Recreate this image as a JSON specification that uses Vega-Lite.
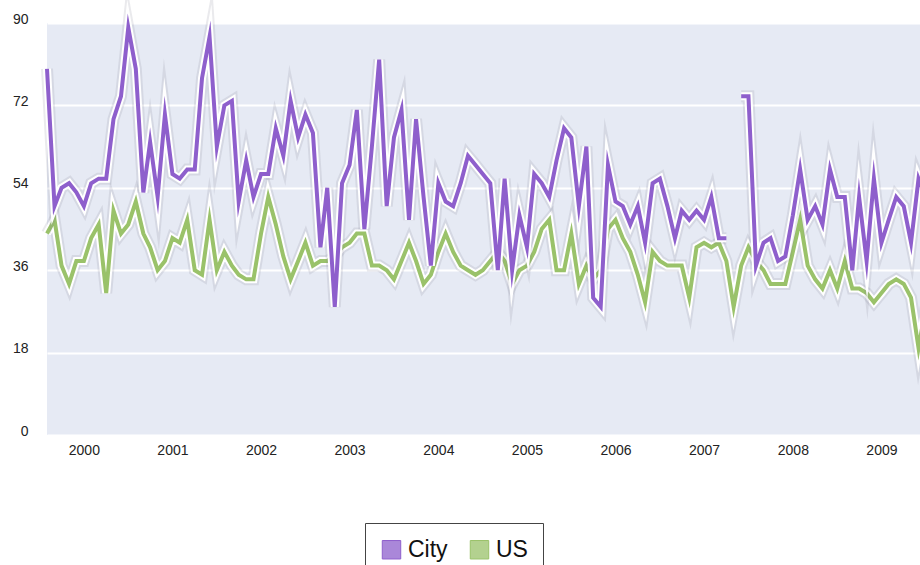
{
  "$schema": "https://vega.github.io/schema/vega-lite/v6.json",
  "autosize": {"type": "none"},
  "padding": {"left": 47, "top": 23, "right": 0, "bottom": 130},
  "width": 873,
  "height": 412,
  "background": "white",
  "config": {
    "view": {"fill": "#e6eaf4", "stroke": null},
    "font": "Liberation Sans",
    "axis": {"labelFont": "Liberation Sans", "labelFontSize": 14, "labelColor": "#222222"}
  },
  "data": {
    "values": [
      {"d": "2000-01-01", "City": 80, "US": 44},
      {"d": "2000-02-01", "City": 50, "US": 47},
      {"d": "2000-03-01", "City": 54, "US": 37},
      {"d": "2000-04-01", "City": 55, "US": 33},
      {"d": "2000-05-01", "City": 53, "US": 38},
      {"d": "2000-06-01", "City": 50, "US": 38},
      {"d": "2000-07-01", "City": 55, "US": 43},
      {"d": "2000-08-01", "City": 56, "US": 46},
      {"d": "2000-09-01", "City": 56, "US": 31},
      {"d": "2000-10-01", "City": 69, "US": 49},
      {"d": "2000-11-01", "City": 74, "US": 44},
      {"d": "2000-12-01", "City": 89, "US": 46},
      {"d": "2001-01-01", "City": 80, "US": 51},
      {"d": "2001-02-01", "City": 53, "US": 44},
      {"d": "2001-03-01", "City": 64, "US": 41},
      {"d": "2001-04-01", "City": 52, "US": 36},
      {"d": "2001-05-01", "City": 70, "US": 38},
      {"d": "2001-06-01", "City": 57, "US": 43},
      {"d": "2001-07-01", "City": 56, "US": 42},
      {"d": "2001-08-01", "City": 58, "US": 47},
      {"d": "2001-09-01", "City": 58, "US": 36},
      {"d": "2001-10-01", "City": 78, "US": 35},
      {"d": "2001-11-01", "City": 87, "US": 47},
      {"d": "2001-12-01", "City": 63, "US": 36},
      {"d": "2002-01-01", "City": 72, "US": 40},
      {"d": "2002-02-01", "City": 73, "US": 37},
      {"d": "2002-03-01", "City": 51, "US": 35},
      {"d": "2002-04-01", "City": 60, "US": 34},
      {"d": "2002-05-01", "City": 52, "US": 34},
      {"d": "2002-06-01", "City": 57, "US": 44},
      {"d": "2002-07-01", "City": 57, "US": 52},
      {"d": "2002-08-01", "City": 67, "US": 46},
      {"d": "2002-09-01", "City": 61, "US": 39},
      {"d": "2002-10-01", "City": 73, "US": 34},
      {"d": "2002-11-01", "City": 65, "US": 38},
      {"d": "2002-12-01", "City": 70, "US": 42},
      {"d": "2003-01-01", "City": 66, "US": 37},
      {"d": "2003-02-01", "City": 41, "US": 38},
      {"d": "2003-03-01", "City": 54, "US": 38},
      {"d": "2003-04-01", "City": 28, "US": 39},
      {"d": "2003-05-01", "City": 55, "US": 41},
      {"d": "2003-06-01", "City": 59, "US": 42},
      {"d": "2003-07-01", "City": 71, "US": 44},
      {"d": "2003-08-01", "City": 45, "US": 44},
      {"d": "2003-09-01", "City": 63, "US": 37},
      {"d": "2003-10-01", "City": 82, "US": 37},
      {"d": "2003-11-01", "City": 50, "US": 36},
      {"d": "2003-12-01", "City": 65, "US": 34},
      {"d": "2004-01-01", "City": 71, "US": 38},
      {"d": "2004-02-01", "City": 47, "US": 42},
      {"d": "2004-03-01", "City": 69, "US": 38},
      {"d": "2004-04-01", "City": 52, "US": 33},
      {"d": "2004-05-01", "City": 37, "US": 35},
      {"d": "2004-06-01", "City": 55, "US": 40},
      {"d": "2004-07-01", "City": 51, "US": 44},
      {"d": "2004-08-01", "City": 50, "US": 40},
      {"d": "2004-09-01", "City": 55, "US": 37},
      {"d": "2004-10-01", "City": 61, "US": 36},
      {"d": "2004-11-01", "City": 59, "US": 35},
      {"d": "2004-12-01", "City": 57, "US": 36},
      {"d": "2005-01-01", "City": 55, "US": 38},
      {"d": "2005-02-01", "City": 36, "US": 40},
      {"d": "2005-03-01", "City": 56, "US": 38},
      {"d": "2005-04-01", "City": 36, "US": 33},
      {"d": "2005-05-01", "City": 48, "US": 36},
      {"d": "2005-06-01", "City": 41, "US": 37},
      {"d": "2005-07-01", "City": 57, "US": 40},
      {"d": "2005-08-01", "City": 55, "US": 45},
      {"d": "2005-09-01", "City": 52, "US": 47},
      {"d": "2005-10-01", "City": 60, "US": 36},
      {"d": "2005-11-01", "City": 67, "US": 36},
      {"d": "2005-12-01", "City": 65, "US": 44},
      {"d": "2006-01-01", "City": 50, "US": 33},
      {"d": "2006-02-01", "City": 63, "US": 37},
      {"d": "2006-03-01", "City": 30, "US": 34},
      {"d": "2006-04-01", "City": 28, "US": 36},
      {"d": "2006-05-01", "City": 59, "US": 45},
      {"d": "2006-06-01", "City": 51, "US": 47},
      {"d": "2006-07-01", "City": 50, "US": 43},
      {"d": "2006-08-01", "City": 46, "US": 40},
      {"d": "2006-09-01", "City": 50, "US": 35},
      {"d": "2006-10-01", "City": 42, "US": 29},
      {"d": "2006-11-01", "City": 55, "US": 40},
      {"d": "2006-12-01", "City": 56, "US": 38},
      {"d": "2007-01-01", "City": 50, "US": 37},
      {"d": "2007-02-01", "City": 43, "US": 37},
      {"d": "2007-03-01", "City": 49, "US": 37},
      {"d": "2007-04-01", "City": 47, "US": 30},
      {"d": "2007-05-01", "City": 49, "US": 41},
      {"d": "2007-06-01", "City": 47, "US": 42},
      {"d": "2007-07-01", "City": 52, "US": 41},
      {"d": "2007-08-01", "City": 43, "US": 42},
      {"d": "2007-09-01", "City": 43, "US": 38},
      {"d": "2007-10-01", "City": null, "US": 28},
      {"d": "2007-11-01", "City": 74, "US": 37},
      {"d": "2007-12-01", "City": 74, "US": 41},
      {"d": "2008-01-01", "City": 37, "US": 38},
      {"d": "2008-02-01", "City": 42, "US": 36},
      {"d": "2008-03-01", "City": 43, "US": 33},
      {"d": "2008-04-01", "City": 38, "US": 33},
      {"d": "2008-05-01", "City": 39, "US": 33},
      {"d": "2008-06-01", "City": 48, "US": 40},
      {"d": "2008-07-01", "City": 58, "US": 47},
      {"d": "2008-08-01", "City": 47, "US": 37},
      {"d": "2008-09-01", "City": 50, "US": 34},
      {"d": "2008-10-01", "City": 46, "US": 32},
      {"d": "2008-11-01", "City": 58, "US": 36},
      {"d": "2008-12-01", "City": 52, "US": 32},
      {"d": "2009-01-01", "City": 52, "US": 38},
      {"d": "2009-02-01", "City": 36, "US": 32},
      {"d": "2009-03-01", "City": 52, "US": 32},
      {"d": "2009-04-01", "City": 38, "US": 31},
      {"d": "2009-05-01", "City": 56, "US": 29},
      {"d": "2009-06-01", "City": 42, "US": 31},
      {"d": "2009-07-01", "City": 47, "US": 33},
      {"d": "2009-08-01", "City": 52, "US": 34},
      {"d": "2009-09-01", "City": 50, "US": 33},
      {"d": "2009-10-01", "City": 42, "US": 30},
      {"d": "2009-11-01", "City": 56, "US": 19},
      {"d": "2009-12-01", "City": 52, "US": 28}
    ]
  },
  "transform": [
    {"fold": ["City", "US"], "as": ["series", "value"]}
  ],
  "encoding": {
    "x": {
      "field": "d",
      "type": "temporal",
      "scale": {
        "type": "utc",
        "domain": [
          {"year": 2000, "month": 1, "date": 1, "utc": true},
          {"year": 2009, "month": 11, "date": 7, "utc": true}
        ]
      },
      "axis": {
        "title": null,
        "domain": false,
        "ticks": false,
        "grid": false,
        "labelPadding": 8,
        "labelBaseline": "top",
        "labelAlign": "center",
        "format": "%Y",
        "values": [
          {"year": 2000, "month": 6, "date": 1, "utc": true},
          {"year": 2001, "month": 6, "date": 1, "utc": true},
          {"year": 2002, "month": 6, "date": 1, "utc": true},
          {"year": 2003, "month": 6, "date": 1, "utc": true},
          {"year": 2004, "month": 6, "date": 1, "utc": true},
          {"year": 2005, "month": 6, "date": 1, "utc": true},
          {"year": 2006, "month": 6, "date": 1, "utc": true},
          {"year": 2007, "month": 6, "date": 1, "utc": true},
          {"year": 2008, "month": 6, "date": 1, "utc": true},
          {"year": 2009, "month": 6, "date": 1, "utc": true}
        ]
      }
    },
    "y": {
      "field": "value",
      "type": "quantitative",
      "scale": {"domain": [0, 90], "nice": false, "zero": true},
      "axis": {
        "title": null,
        "domain": false,
        "ticks": false,
        "grid": true,
        "gridColor": "#ffffff",
        "gridWidth": 2,
        "values": [0, 18, 36, 54, 72, 90],
        "labelPadding": 19,
        "labelBaseline": "alphabetic",
        "labelOffset": 0
      }
    }
  },
  "layer": [
    {
      "transform": [{"filter": "datum.series === 'US'"}],
      "mark": {"type": "line", "color": "#7a7f8c", "opacity": 0.16, "strokeWidth": 12, "strokeJoin": "miter", "strokeMiterLimit": 10, "invalid": "break-paths-show-domains"}
    },
    {
      "transform": [{"filter": "datum.series === 'US'"}],
      "mark": {"type": "line", "color": "#ffffff", "strokeWidth": 8, "strokeJoin": "miter", "strokeMiterLimit": 10, "invalid": "break-paths-show-domains"}
    },
    {
      "transform": [{"filter": "datum.series === 'US'"}],
      "mark": {"type": "line", "strokeWidth": 4, "strokeJoin": "miter", "strokeMiterLimit": 10, "invalid": "break-paths-show-domains"},
      "encoding": {
        "color": {"field": "series", "type": "nominal"}
      }
    },
    {
      "transform": [{"filter": "datum.series === 'City'"}],
      "mark": {"type": "line", "color": "#7a7f8c", "opacity": 0.16, "strokeWidth": 12, "strokeJoin": "miter", "strokeMiterLimit": 10, "invalid": "break-paths-show-domains"}
    },
    {
      "transform": [{"filter": "datum.series === 'City'"}],
      "mark": {"type": "line", "color": "#ffffff", "strokeWidth": 8, "strokeJoin": "miter", "strokeMiterLimit": 10, "invalid": "break-paths-show-domains"}
    },
    {
      "transform": [{"filter": "datum.series === 'City'"}],
      "mark": {"type": "line", "strokeWidth": 4, "strokeJoin": "miter", "strokeMiterLimit": 10, "invalid": "break-paths-show-domains"},
      "encoding": {
        "color": {
          "field": "series",
          "type": "nominal",
          "scale": {"domain": ["City", "US"], "range": ["#8e5fcc", "#9ac26a"]},
          "legend": {
            "title": null,
            "orient": "none",
            "legendX": 318,
            "legendY": 500,
            "direction": "horizontal",
            "symbolType": "square",
            "symbolSize": 340,
            "symbolStrokeWidth": 1,
            "labelFont": "Liberation Sans",
            "labelFontSize": 23,
            "labelColor": "#111111",
            "labelOffset": 5,
            "columnPadding": 20,
            "padding": 15,
            "strokeColor": "#444444",
            "fillColor": "#ffffff",
            "encode": {
              "symbols": {
                "update": {
                  "fill": {"scale": "color", "field": "value"},
                  "fillOpacity": {"value": 0.75},
                  "stroke": {"value": "#333333"},
                  "strokeWidth": {"value": 1},
                  "opacity": {"value": 1}
                }
              }
            }
          }
        }
      }
    }
  ]
}
